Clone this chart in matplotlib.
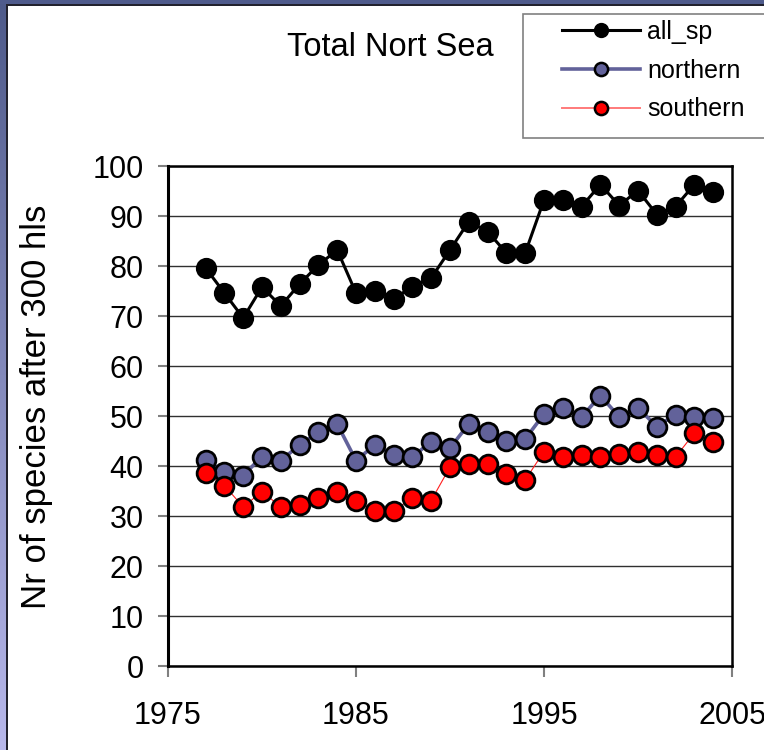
import matplotlib
matplotlib.use("Agg")
import matplotlib.pyplot as plt
import numpy as np
from matplotlib.lines import Line2D
from matplotlib.patches import Rectangle

plt.rcParams['font.family'] = ['Liberation Sans', 'DejaVu Sans']

years = list(range(1977, 2005))
all_sp = [79.6, 74.6, 69.6, 75.8, 72.0, 76.4, 80.2, 83.2, 74.6, 75.1, 73.4, 75.9,
          77.6, 83.2, 88.9, 86.9, 82.6, 82.6, 93.2, 93.2, 91.9, 96.3, 92.1, 95.1,
          90.3, 91.9, 96.3, 94.9]
northern = [41.3, 38.8, 38.1, 41.9, 41.1, 44.2, 46.8, 48.4, 41.1, 44.2, 42.3, 41.8,
            44.9, 43.6, 48.4, 46.8, 45.1, 45.4, 50.4, 51.6, 49.8, 54.1, 49.8, 51.6,
            47.9, 50.3, 49.8, 49.6]
southern = [38.6, 36.1, 31.8, 34.9, 31.8, 32.3, 33.6, 34.9, 33.1, 31.1, 31.1, 33.6,
            33.1, 39.8, 40.4, 40.4, 38.4, 37.2, 42.9, 41.8, 42.3, 41.8, 42.4, 42.9,
            42.3, 41.8, 46.6, 44.8]

series_names = ['all_sp', 'northern', 'southern']
xticks = [1975, 1985, 1995, 2005]
yticks = list(range(0, 101, 10))
title = 'Total Nort Sea'
ylabel = 'Nr of species after 300 hls'

W, H = 764, 750
fig = plt.figure(figsize=(W / 100, H / 100), dpi=100)

# background frame with gradient strip
bg = fig.add_axes([0, 0, 1, 1], zorder=-10)
bg.set_axis_off()
c_top = np.array([0x4e, 0x5a, 0x8a]) / 255
c_bot = np.array([0xb8, 0xb8, 0xec]) / 255
t = np.linspace(0, 1, 256)[:, None]
grad = (c_top[None, :] * (1 - t) + c_bot[None, :] * t)[:, None, :]
bg.imshow(grad, aspect='auto', extent=[0, W, H, 0])
bg.set_xlim(0, W)
bg.set_ylim(H, 0)
bg.add_patch(Rectangle((0, 0), W, 4, color=(0x4f/255, 0x5b/255, 0x8c/255), lw=0))
bg.add_patch(Rectangle((6, 4), W, H, facecolor='#22222e', lw=0))
bg.add_patch(Rectangle((8, 6), W, H, facecolor='white', lw=0))

ax = fig.add_axes([168 / W, (H - 666) / H, (732 - 168) / W, (666 - 166) / H])
ax.set_xlim(1975, 2005)
ax.set_ylim(0, 100)
ax.set_xticks(xticks)
ax.set_yticks(yticks)
ax.yaxis.grid(True, color='#303030', lw=1.0, zorder=0)
ax.set_axisbelow(True)
for s in ax.spines.values():
    s.set_color('black')
    s.set_linewidth(1.8)
ax.spines['left'].set_linewidth(2.2)
ax.tick_params(axis='both', colors='#808080', labelcolor='black', labelsize=22, width=1.5)
ax.tick_params(axis='y', length=7.5, pad=10)
ax.tick_params(axis='x', length=8, pad=17)

ax.plot(years, all_sp, color='black', lw=2.2, marker='o', ms=13.5,
        mfc='black', mec='black', mew=1.8, zorder=3)
ax.plot(years, northern, color='#62629a', lw=2.6, marker='o', ms=13.5,
        mfc='#62629a', mec='black', mew=2.0, zorder=3)
ax.plot(years, southern, color='#ff2020', lw=0.8, marker='o', ms=13.5,
        mfc='#ff0000', mec='black', mew=2.0, zorder=4)

fig.text(390 / W, 1 - 48 / H, title, fontsize=23.5, ha='center', va='center')
fig.text(37 / W, 1 - 407 / H, ylabel, fontsize=25, ha='center', va='center', rotation=90)

# legend box
bg.add_patch(Rectangle((522.5, 13.5), 260, 124, facecolor='white', edgecolor='#808080', lw=1.2))
handles = [
    Line2D([], [], color='black', lw=2.2, marker='o', ms=9.5, mfc='black', mec='black', mew=1.5),
    Line2D([], [], color='#62629a', lw=2.6, marker='o', ms=9.5, mfc='#62629a', mec='black', mew=1.8),
    Line2D([], [], color='#ff7a7a', lw=1.4, marker='o', ms=9.5, mfc='#ff0000', mec='black', mew=1.8),
]
fig.legend(handles, series_names, loc='upper left', bbox_to_anchor=(562 / W, 1 - 20 / H),
           frameon=False, fontsize=18, borderpad=0, borderaxespad=0,
           handlelength=3.12, handletextpad=0.28, labelspacing=0.59)

fig.savefig('out.png', dpi=100)
